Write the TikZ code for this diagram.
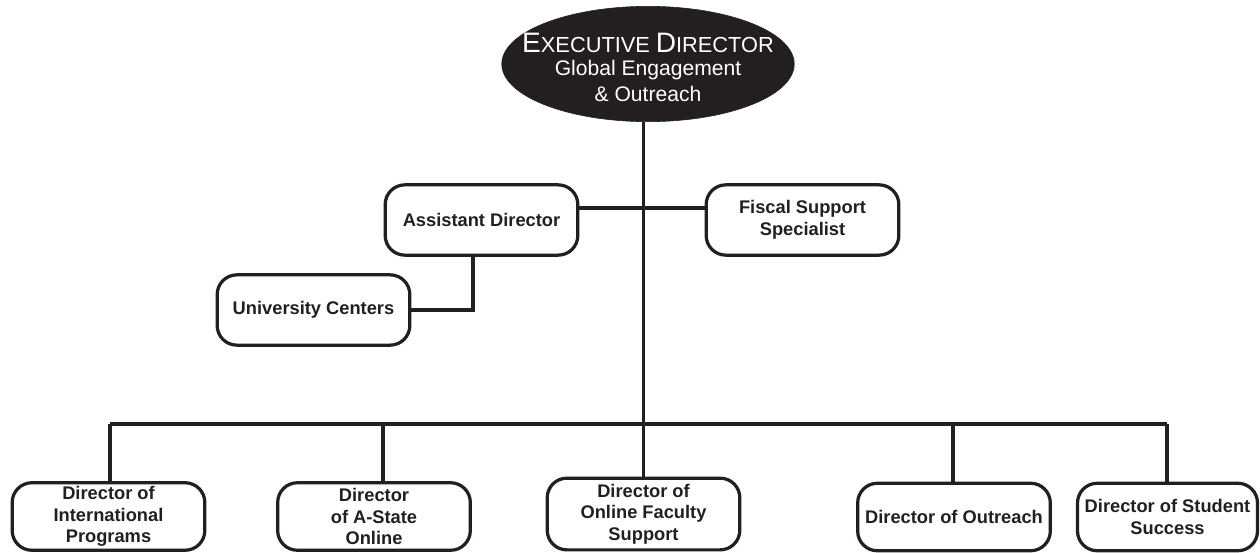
\documentclass[tikz,border=0pt]{standalone}
\usepackage{fontspec}
\setmainfont{Liberation Sans}
\usetikzlibrary{shapes.geometric}
\definecolor{ink}{HTML}{231F20}
\tikzstyle{role}=[draw=ink, line width=2.3pt, rounded corners=14pt, align=center, inner sep=0pt, minimum width=137pt, minimum height=48pt, text=ink, font=\fontsize{13}{15.3}\selectfont\bfseries]
\tikzstyle{chief}=[ellipse, fill=ink, draw=ink, text=white, align=center, inner xsep=-17pt, inner ysep=-2.5pt, minimum width=208pt, minimum height=82pt, font=\fontsize{15}{18.5}\selectfont]
\tikzstyle{link}=[draw=ink, line width=2.3pt]
\newcommand{\capsc}[2]{{\fontsize{20}{19}\selectfont #1}{\fontsize{15.5}{19}\selectfont #2}}

\begin{document}
\begin{tikzpicture}[x=0.025cm, y=-0.025cm]
    \useasboundingbox (0,0) rectangle (1260,552);
    \node[chief] (ed) at (648,64) {\rule{0pt}{19pt}\capsc{E}{XECUTIVE} \capsc{D}{IRECTOR}\\[-2pt]Global Engagement\\\& Outreach};
    \node[role, minimum height=50pt] (ad) at (481.5,220) {Assistant Director};
    \node[role, minimum height=50pt] (fs) at (802.5,220) {Fiscal Support\\Specialist};
    \node[role, minimum height=50pt] (uc) at (313.5,310) {University Centers};
    \node[role] (ip) at (108.5,516.5) {Director of\\International\\Programs};
    \node[role] (ao) at (374,516.5) {Director\\of A-State\\Online};
    \node[role, minimum height=51pt] (of) at (643.5,514) {Director of\\Online Faculty\\Support};
    \node[role] (dr) at (954,517) {Director of Outreach};
    \node[role, minimum width=128pt] (ss) at (1167.5,517) {Director of Student\\Success};
    \coordinate (hl) at (643,208);
    \coordinate (uk) at (473,312);
    \coordinate (b1) at (110,424);
    \coordinate (b2) at (383,424);
    \coordinate (b4) at (953,424);
    \coordinate (b5) at (1167,424);
    \draw[link] (ed.south -| of.north) -- (of.north);
    \draw[link] (ad.east |- hl) -- (fs.west |- hl);
    \draw[link] (uk |- ad.south) |- (uc.east);
    \draw[link] (b1) -- (b5);
    \draw[link] (b1) -- (b1 |- ip.north);
    \draw[link] (b2) -- (b2 |- ao.north);
    \draw[link] (b4) -- (b4 |- dr.north);
    \draw[link] (b5) -- (b5 |- ss.north);
\end{tikzpicture}
\end{document}
